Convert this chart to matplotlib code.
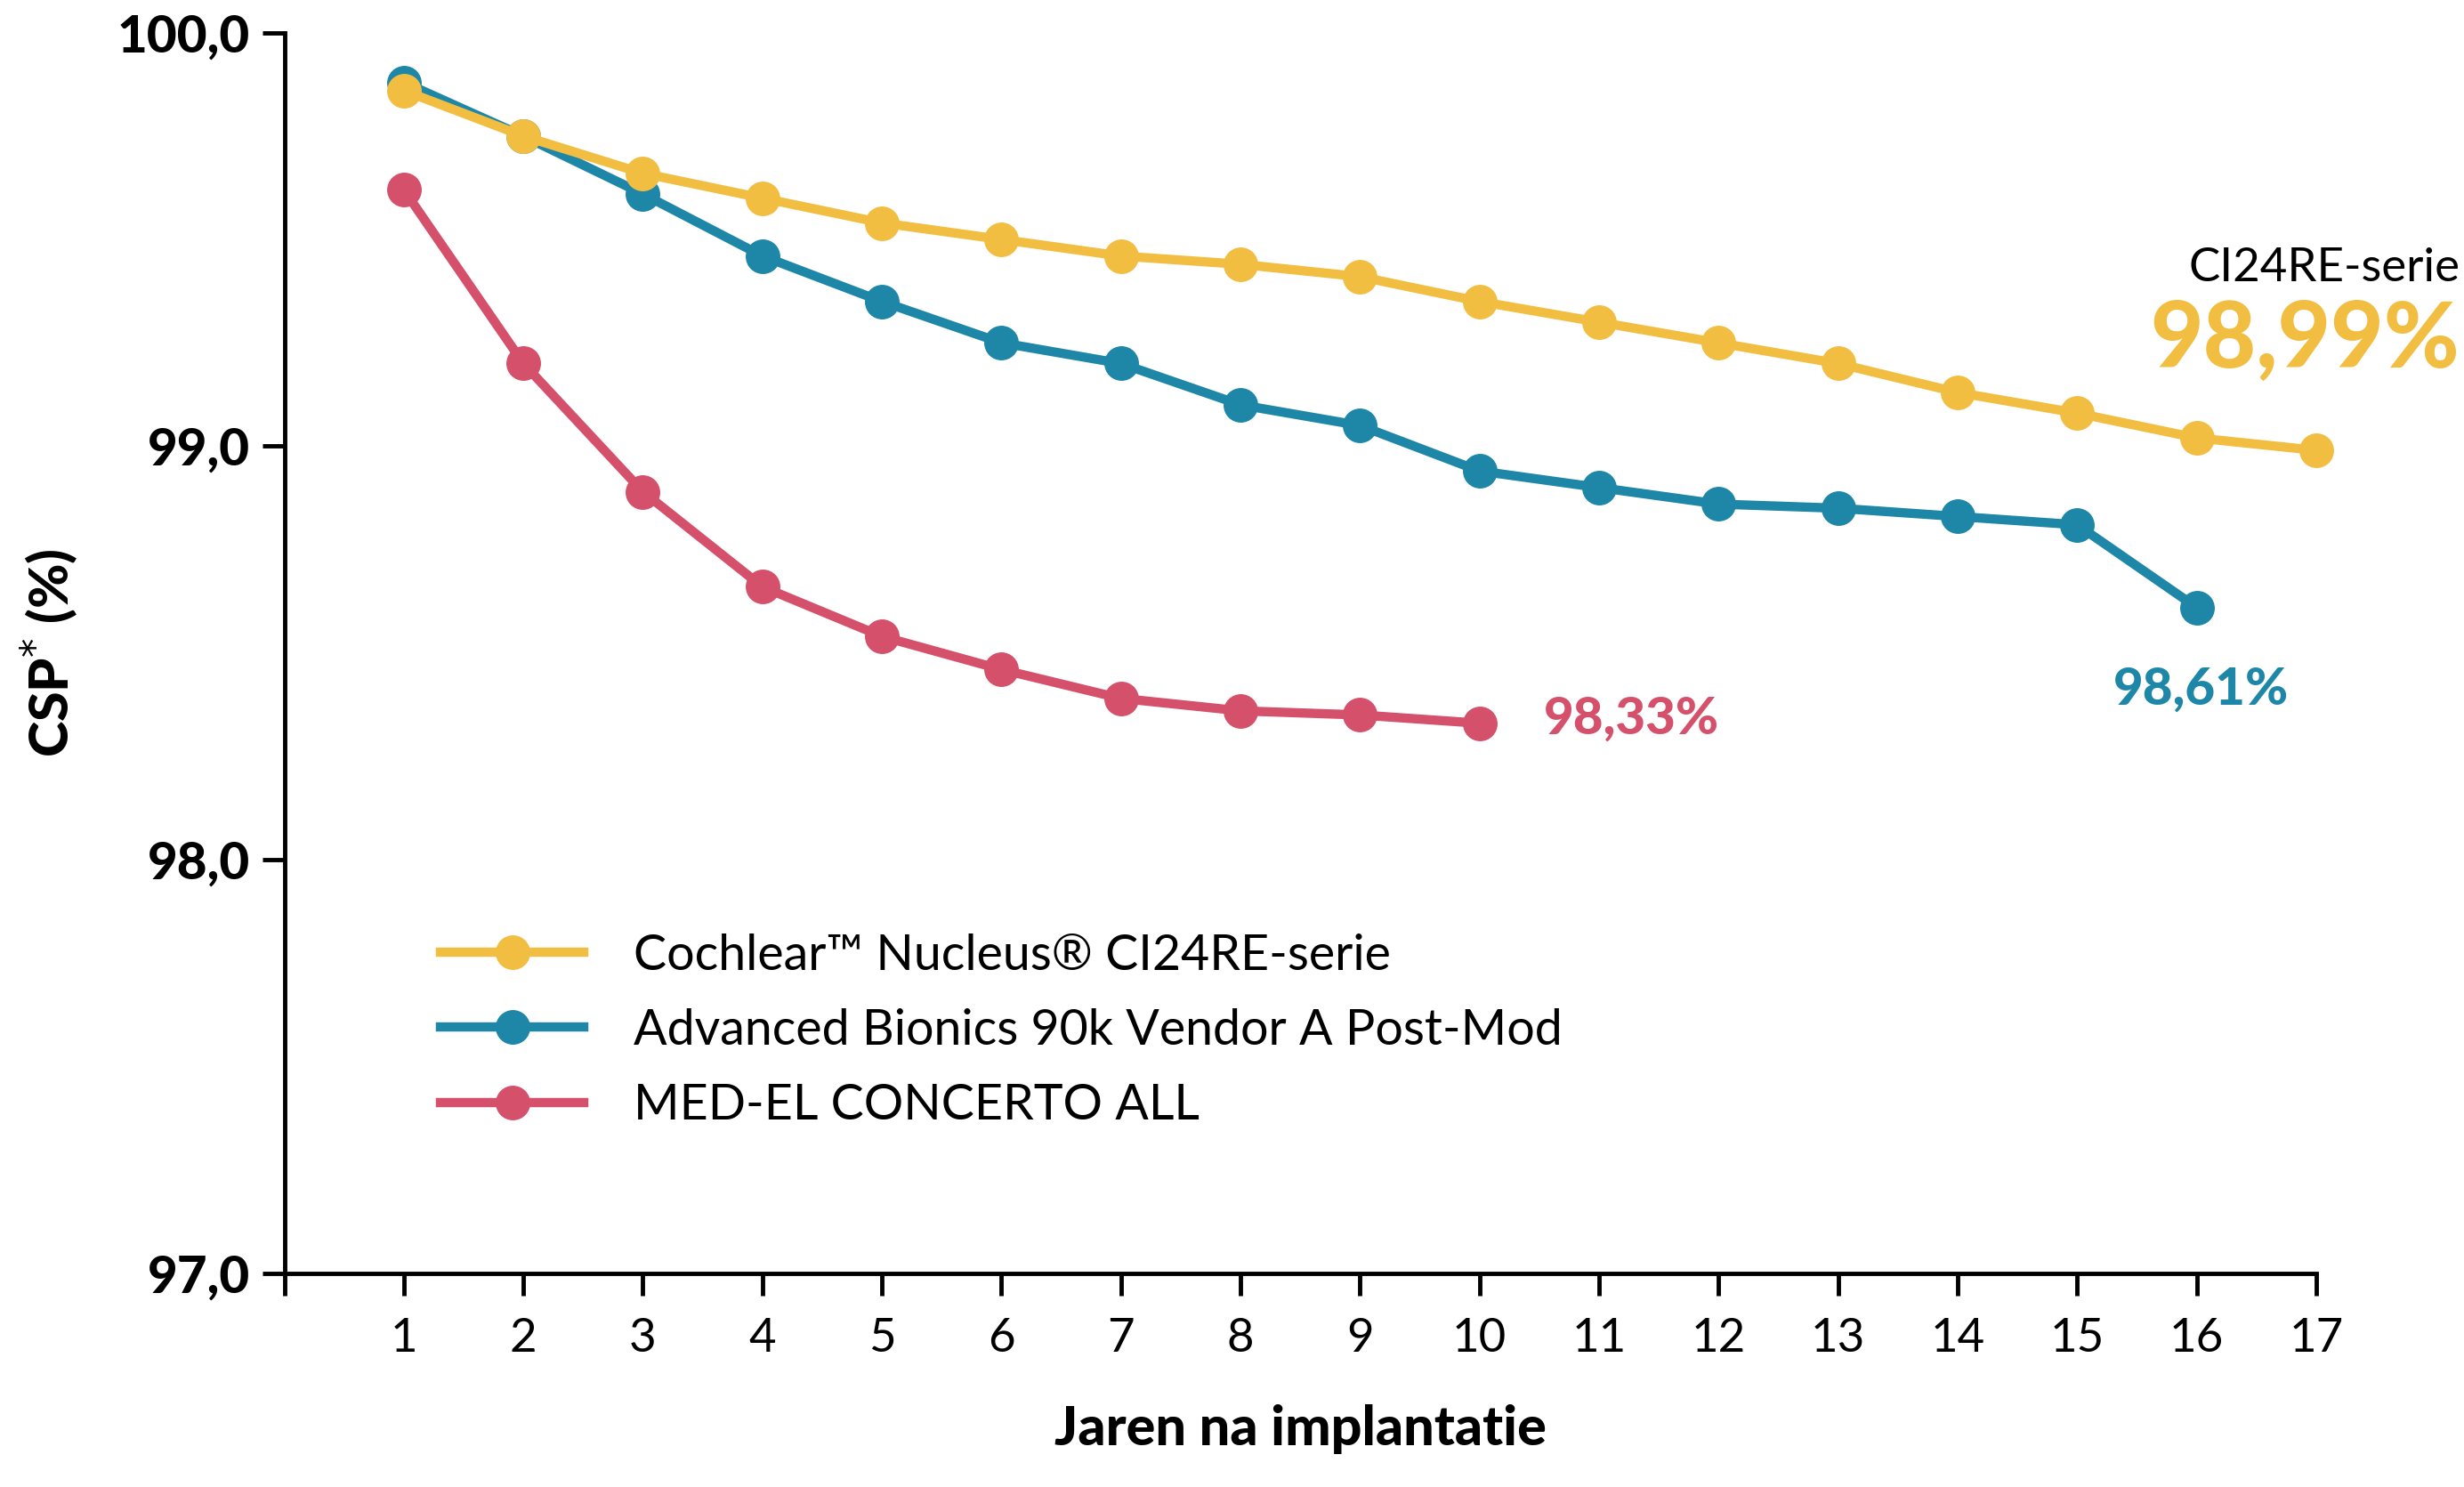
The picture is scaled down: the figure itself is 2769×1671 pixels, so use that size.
import matplotlib
matplotlib.use("Agg")
import matplotlib.pyplot as plt

years_yellow = list(range(1, 18))
csp_yellow = [99.86, 99.75, 99.66, 99.60, 99.54, 99.50, 99.46, 99.44, 99.41,
              99.35, 99.30, 99.25, 99.20, 99.13, 99.08, 99.02, 98.99]
years_blue = list(range(1, 17))
csp_blue = [99.88, 99.75, 99.61, 99.46, 99.35, 99.25, 99.20, 99.10, 99.05,
            98.94, 98.90, 98.86, 98.85, 98.83, 98.81, 98.61]
years_red = list(range(1, 11))
csp_red = [99.62, 99.20, 98.89, 98.66, 98.54, 98.46, 98.39, 98.36, 98.35, 98.33]

labels = ["Cochlear\u2122 Nucleus\u00ae CI24RE-serie",
          "Advanced Bionics 90k Vendor A Post-Mod",
          "MED-EL CONCERTO ALL"]
C = {"y": "#F2BE42", "b": "#1E87A8", "r": "#D5506A"}

plt.rcParams["font.family"] = ["Lato", "DejaVu Sans"]

fig = plt.figure(figsize=(27.69, 16.71), dpi=100)
ax = fig.add_axes([0.1154, 0.1438, 0.8246, 0.8342])

kw = dict(lw=7.5, marker="o", markersize=27, clip_on=False)
ax.plot(years_yellow, csp_yellow, color=C["y"], label=labels[0], zorder=3, **kw)
ax.plot(years_blue, csp_blue, color=C["b"], label=labels[1], zorder=2, **kw)
ax.plot(years_red, csp_red, color=C["r"], label=labels[2], zorder=2, **kw)

ax.set_xlim(0, 17)
ax.set_ylim(97, 100)
ax.set_xticks(range(0, 18))
ax.set_xticklabels([""] + [str(i) for i in range(1, 18)])
ax.set_yticks([97, 98, 99, 100])
ax.set_yticklabels(["97,0", "98,0", "99,0", "100,0"], fontweight="black")
ax.tick_params(axis="x", labelsize=38, length=18, width=3.5, pad=18)
ax.tick_params(axis="y", labelsize=42, length=18, width=3.5, pad=10)
for s in ("top", "right"):
    ax.spines[s].set_visible(False)
for s in ("left", "bottom"):
    ax.spines[s].set_linewidth(3.5)

ax.set_xlabel("Jaren na implantatie", fontsize=44, fontweight="black", labelpad=36)
ax.set_ylabel("CSP$^{*}$ (%)", fontsize=44, fontweight="black", labelpad=30)

ax.text(18.2, 99.43, "CI24RE-serie", fontsize=38, ha="right", va="center", clip_on=False)
ax.text(18.2, 99.255, "98,99%", fontsize=74, fontweight="black", color=C["y"],
        ha="right", va="center", clip_on=False)
ax.text(16.04, 98.41, "98,61%", fontsize=42, fontweight="black", color=C["b"],
        ha="center", va="center")
ax.text(10.54, 98.34, "98,33%", fontsize=42, fontweight="black", color=C["r"],
        ha="left", va="center")

ax.legend(loc="upper left", bbox_to_anchor=(0.055, 0.31), frameon=False,
          fontsize=40, handlelength=2.9, labelspacing=0.6, handletextpad=1.0)

fig.savefig("out.png", dpi=100)
